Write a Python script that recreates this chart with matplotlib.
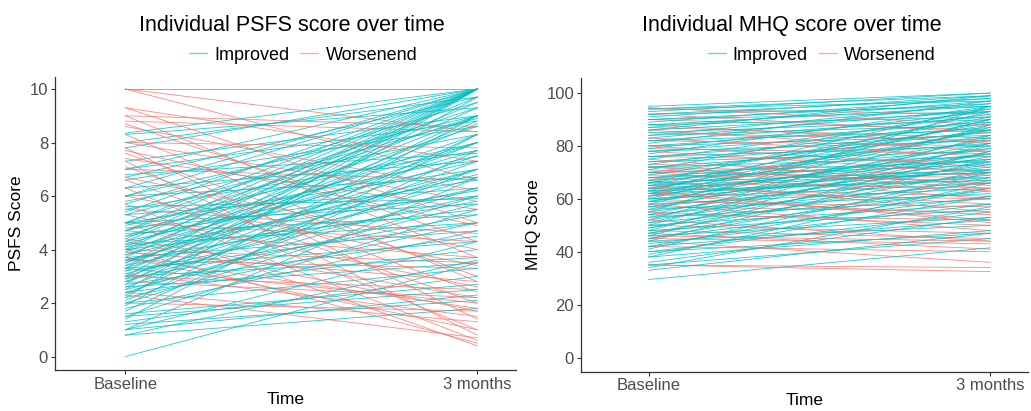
import matplotlib
matplotlib.use("Agg")
import matplotlib.pyplot as plt
from matplotlib.lines import Line2D

plt.rcParams['font.family'] = ['Liberation Sans', 'DejaVu Sans']

IMPROVED_COLOR = "#00BFC4"
WORSENED_COLOR = "#F8766D"
TIME_LABELS = ["Baseline", "3 months"]

# PSFS (baseline, 3 months) pairs
psfs_base = [
    10, 10, 9.3, 9.3, 9.0, 8.7, 8.6, 8.3, 8.0, 8.0, 7.8, 7.7, 7.6, 7.4, 7.3, 7.1,
    7.0, 6.7, 6.6, 6.3, 6.0, 5.7, 5.5, 5.3, 5.0, 5.0, 4.7, 4.4, 4.3, 4.0, 4.0,
    3.9, 3.7, 3.6, 3.3, 3.1, 3.0, 2.8, 2.4, 2.3, 2.0, 3.7, 8.8, 9.0,
    10, 8.35, 8.3, 7.0, 7.0, 6.7, 6.3, 6.3, 6.0, 6.0, 6.0, 5.8, 5.7, 5.5, 5.4,
    5.3, 5.3, 5.0, 5.0, 5.0, 5.0, 4.9, 4.8, 4.7, 4.7, 4.7, 4.6, 4.5, 4.5, 4.4,
    4.3, 4.3, 4.2, 4.2, 4.1, 4.0, 4.0, 4.0, 3.9, 3.8, 3.8, 3.7, 3.7, 3.6, 3.6,
    3.5, 3.5, 3.4, 3.3, 3.3, 3.3, 3.2, 3.2, 3.1, 3.0, 3.0, 3.0, 2.9, 2.9, 2.8,
    2.8, 2.7, 2.7, 2.6, 2.6, 2.5, 2.5, 2.4, 2.4, 2.3, 2.2, 2.2, 2.1, 2.0, 2.0,
    1.9, 1.8, 1.7, 1.6, 1.5, 1.4, 1.3, 1.0, 1.0, 1.0, 0.8, 0.8, 0.0,
    6.6, 7.3, 5.6, 8.0, 7.8, 6.8, 1.2, 1.5, 4.1, 3.4,
]
psfs_3m = [
    6.6, 8.4, 5.0, 7.3, 3.7, 4.3, 6.2, 2.8, 5.8, 7.8, 1.4, 4.9, 3.0, 5.5, 0.8, 2.4,
    6.6, 4.0, 2.0, 1.0, 3.4, 0.6, 4.6, 2.6, 0.4, 4.3, 3.7, 2.2, 1.7, 3.5, 0.5,
    2.8, 1.0, 3.3, 2.0, 1.5, 2.5, 2.2, 1.3, 0.7, 1.7, 1.8, 8.4, 8.6,
    10, 10, 9.3, 10, 8.8, 9.7, 10, 7.3, 9.0, 10, 6.7, 8.3, 9.5, 7.7, 10,
    6.3, 8.9, 10, 7.0, 5.7, 9.3, 8.0, 6.0, 10, 7.5, 9.0, 5.3, 8.6, 6.6, 10,
    7.3, 9.7, 5.0, 8.0, 6.2, 10, 7.7, 5.5, 9.0, 6.8, 8.3, 4.7, 10, 7.0, 5.8,
    9.3, 8.0, 6.3, 4.3, 10, 7.5, 5.0, 8.7, 6.0, 10, 7.0, 3.7, 9.0, 5.3, 6.7,
    8.0, 4.5, 10, 7.3, 3.5, 5.7, 9.7, 6.3, 4.0, 8.3, 5.0, 10, 7.0, 3.3, 6.0,
    9.0, 4.7, 7.7, 2.7, 5.5, 8.3, 3.0, 6.7, 2.3, 4.3, 1.8, 3.6, 3.5,
    8.6, 9.0, 5.9, 9.7, 10, 7.6, 2.1, 2.5, 9.5, 8.8,
]

# MHQ (baseline, 3 months) pairs
mhq_base = [
    94.5, 94, 92, 90, 88, 87, 86, 85, 83, 82, 80, 79, 78, 76, 75, 73, 72, 72,
    71, 70, 69, 68, 67, 66, 65, 64, 63, 62, 60, 59, 58, 57, 55, 54, 52, 50, 48,
    47, 46, 45, 44, 42, 35, 35, 62, 70,
    95, 94, 94, 93, 92, 92, 91, 90, 90, 89, 88, 88, 87, 86, 86, 85, 84, 84, 83,
    82, 82, 81, 80, 80, 79, 78, 78, 77, 76, 76, 75, 74, 74, 73, 72, 72, 71, 70,
    70, 69, 68, 68, 67, 66, 66, 65, 65, 64, 64, 63, 63, 62, 62, 61, 61, 60, 60,
    59, 59, 58, 58, 57, 57, 56, 56, 55, 55, 54, 54, 53, 53, 52, 52, 51, 51, 50,
    50, 49, 49, 48, 48, 47, 47, 46, 46, 45, 45, 44, 44, 43, 42, 42, 41, 40, 40,
    39, 38, 38, 36, 35, 34, 33, 29.5, 67, 66, 65, 64, 63, 62, 61, 60,
]
mhq_3m = [
    88, 92, 85, 86, 81, 83, 78, 82, 76, 80, 72, 77, 70, 74, 65, 71, 64, 69,
    66, 60, 67, 63, 55, 64, 58, 61, 51, 60, 54, 57, 48, 55, 50, 52, 44, 47, 45,
    41, 44, 43, 36, 40, 32.5, 34, 52, 68,
    100, 99, 97, 100, 98, 95, 99, 96, 93, 98, 95, 91, 97, 93, 99, 90, 96, 88, 94,
    91, 86, 97, 89, 84, 93, 87, 82, 95, 85, 80, 92, 83, 78, 90, 81, 76, 94, 86,
    74, 88, 79, 73, 91, 84, 71, 77, 89, 70, 82, 93, 75, 68, 86, 79, 72, 90, 66,
    81, 74, 64, 87, 77, 69, 83, 62, 73, 95, 66, 80, 60, 76, 70, 88, 63, 78, 58,
    84, 68, 74, 56, 81, 64, 71, 53, 78, 61, 67, 50, 75, 58, 64, 52, 70, 55, 47,
    61, 48, 66, 53, 45, 57, 47, 41.5, 75, 95, 70, 86, 67, 77, 90, 71,
]


def draw_panel(ax, base, follow, ylabel, yticks):
    # interleave colours by drawing in a mixed order
    order = sorted(range(len(base)), key=lambda i: (base[i] * 7.3) % 1)
    for i in order:
        color = IMPROVED_COLOR if follow[i] >= base[i] else WORSENED_COLOR
        ax.plot([0, 1], [base[i], follow[i]], color=color, lw=0.6, alpha=0.85)

    ax.set_xticks([0, 1])
    ax.set_xticklabels(TIME_LABELS)
    ax.set_yticks(yticks)
    ax.set_xlabel("Time", fontsize=12.5, labelpad=0)
    ax.set_ylabel(ylabel, fontsize=12.5, labelpad=4)
    for side in ["top", "right"]:
        ax.spines[side].set_visible(False)
    for side in ["left", "bottom"]:
        ax.spines[side].set_color("#333333")
        ax.spines[side].set_linewidth(0.9)
    ax.tick_params(axis="both", labelsize=12, colors="#333333",
                   labelcolor="#4D4D4D", length=3, width=0.8, pad=2)
    ax.set_facecolor("white")


fig = plt.figure(figsize=(10.31, 4.11), dpi=100)
ax1 = fig.add_axes([0.0533, 0.1000, 0.4472, 0.7127])
ax2 = fig.add_axes([0.5635, 0.0960, 0.4335, 0.7142])

draw_panel(ax1, psfs_base, psfs_3m, "PSFS Score", [0, 2, 4, 6, 8, 10])
ax1.set_xlim(-0.20, 1.11)
ax1.set_ylim(-0.5, 10.45)

draw_panel(ax2, mhq_base, mhq_3m, "MHQ Score", [0, 20, 40, 60, 80, 100])
ax2.set_xlim(-0.198, 1.11)
ax2.set_ylim(-5.3, 105.7)

fig.text(0.283, 0.939, "Individual PSFS score over time", ha="center", va="center", fontsize=15.5)
fig.text(0.768, 0.939, "Individual MHQ score over time", ha="center", va="center", fontsize=15.5)

handles = [Line2D([], [], color=IMPROVED_COLOR, lw=1, alpha=0.6),
           Line2D([], [], color=WORSENED_COLOR, lw=1, alpha=0.6)]
for xc in [0.294, 0.797]:
    fig.legend(handles, ["Improved", "Worsenend"], loc="center", bbox_to_anchor=(xc, 0.866),
               ncol=2, frameon=False, fontsize=13, handlelength=1.0, handletextpad=0.4,
               columnspacing=0.6, borderaxespad=0)

fig.savefig("out.png", dpi=100, facecolor="white")
